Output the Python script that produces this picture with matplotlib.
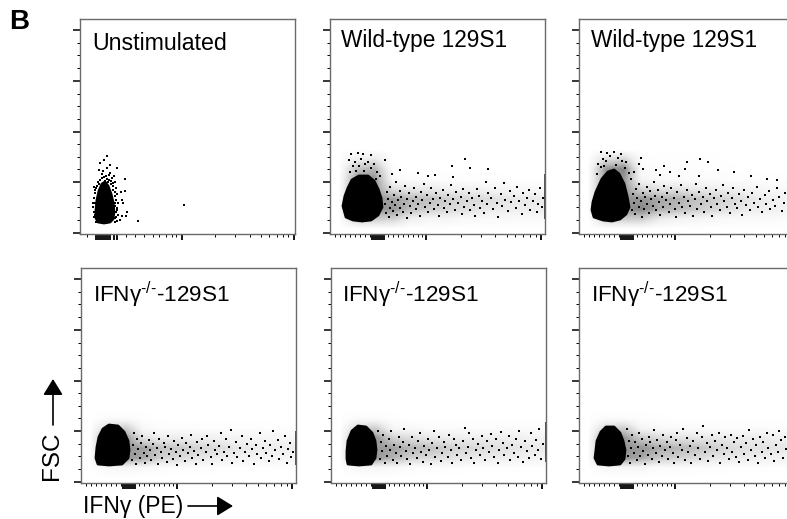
import matplotlib
matplotlib.use('Agg')
import matplotlib.pyplot as plt
import numpy as np

plt.rcParams['font.family'] = ['Liberation Sans', 'DejaVu Sans']
plt.rcParams['mathtext.fontset'] = 'custom'
plt.rcParams['mathtext.rm'] = 'Liberation Sans'
plt.rcParams['mathtext.default'] = 'regular'

W, H = 787, 519
PANEL = 215

labels = ['Unstimulated', 'Wild-type 129S1', 'Wild-type 129S1',
          'IFNγ$^{\\text{-/-}}$-129S1', 'IFNγ$^{\\text{-/-}}$-129S1', 'IFNγ$^{\\text{-/-}}$-129S1']

# channel units, counted from the lower left corner of each plot
y_major = [1, 52, 102, 153, 204]
y_minor = [14, 27, 39, 65, 77, 90, 115, 128, 140, 166, 179, 191]
x_major_1 = [16, 18, 20, 22, 24, 26, 28, 30, 34, 37, 102, 214]
x_minor_1 = [7, 46, 55, 64, 73, 79, 86, 92, 96, 135, 155, 170, 181, 189, 197, 203, 208]
x_major = [42, 44, 46, 48, 50, 52, 54, 96, 211]
x_minor = [5, 10, 15, 20, 25, 30, 35, 40, 58, 63, 68, 73, 78, 83, 88, 92,
           131, 151, 165, 177, 185, 193, 200, 206]

# dense part of each population, outline
blob1 = [(18, 12), (24, 11), (30, 12), (33, 15), (34, 22), (33, 32), (31, 40), (28, 48), (25, 52), (22, 50), (19, 43), (17, 34), (16, 24), (16, 16)]
blob2 = [(16, 17), (23, 14), (32, 13), (41, 14), (48, 19), (52, 27), (51, 36), (48, 45), (44, 53), (38, 58), (29, 58), (22, 54), (18, 46), (15, 38), (13, 28)]
blob3 = [(15, 17), (24, 14), (33, 13), (41, 15), (47, 20), (50, 27), (48, 38), (45, 50), (40, 60), (35, 64), (29, 62), (23, 55), (17, 42), (14, 32), (13, 24)]
blob4 = [(17, 19), (28, 18), (41, 19), (47, 25), (48, 33), (47, 42), (43, 51), (37, 57), (28, 58), (22, 54), (18, 46), (16, 36), (15, 25)]
blob5 = [(17, 19), (28, 18), (40, 19), (44, 25), (45, 33), (44, 42), (41, 50), (35, 56), (27, 57), (21, 52), (17, 42), (16, 32), (16, 24)]
blob6 = [(19, 19), (30, 18), (41, 19), (45, 24), (46, 33), (44, 42), (41, 50), (35, 56), (27, 56), (22, 51), (18, 42), (17, 33), (16, 25)]

# grey level of the loose events, rows 0-90 by 10, columns 0-216 by 18
grid2 = [[0, 0, 0, 0, 0, 0, 0, 0, 0, 0, 0, 0],
         [0, .3, .3, .28, .12, .08, .08, .05, .05, .05, .04, .04],
         [0, .5, .5, .5, .36, .3, .26, .22, .18, .15, .14, .14],
         [0, .5, .5, .46, .4, .36, .3, .26, .24, .2, .16, .16],
         [0, .5, .5, .22, .16, .16, .12, .12, .1, .08, .06, .06],
         [0, .5, .5, .05, .03, .02, .02, .01, .01, .01, 0, 0],
         [0, .35, .4, .02, 0, 0, 0, 0, 0, 0, 0, 0],
         [0, .12, .16, 0, 0, 0, 0, 0, 0, 0, 0, 0],
         [0, 0, 0, 0, 0, 0, 0, 0, 0, 0, 0, 0]]
grid3 = [[0, 0, 0, 0, 0, 0, 0, 0, 0, 0, 0, 0],
         [0, .3, .3, .3, .15, .1, .08, .06, .05, .04, .04, .03],
         [0, .5, .5, .55, .42, .38, .32, .26, .2, .15, .13, .1],
         [0, .5, .5, .5, .44, .42, .36, .3, .25, .18, .14, .1],
         [0, .5, .5, .26, .2, .2, .16, .14, .12, .09, .06, .05],
         [0, .5, .5, .07, .05, .04, .03, .03, .02, .02, .01, .01],
         [0, .5, .55, .04, .02, .02, .02, .01, .01, 0, 0, 0],
         [0, .22, .26, .02, .01, .01, .01, .01, 0, 0, 0, 0],
         [0, 0, 0, 0, 0, 0, 0, 0, 0, 0, 0, 0]]
grid4 = [[0, 0, 0, 0, 0, 0, 0, 0, 0, 0, 0, 0],
         [0, .06, .06, .05, .02, .02, .02, .01, .01, .01, .01, .01],
         [0, .5, .5, .44, .28, .24, .18, .14, .12, .1, .08, .08],
         [0, .5, .5, .46, .34, .32, .28, .24, .18, .16, .14, .14],
         [0, .5, .5, .2, .14, .14, .12, .12, .09, .09, .08, .07],
         [0, .25, .3, .05, .02, .02, .02, .02, .02, .02, .01, .01],
         [0, .03, .03, .01, 0, 0, 0, 0, 0, 0, 0, 0],
         [0, 0, 0, 0, 0, 0, 0, 0, 0, 0, 0, 0],
         [0, 0, 0, 0, 0, 0, 0, 0, 0, 0, 0, 0]]
grid5 = [[0, 0, 0, 0, 0, 0, 0, 0, 0, 0, 0, 0],
         [0, .06, .06, .05, .02, .02, .02, .01, .01, .01, .01, .01],
         [0, .5, .5, .4, .28, .24, .2, .17, .14, .14, .12, .09],
         [0, .5, .5, .46, .4, .36, .3, .26, .24, .2, .18, .16],
         [0, .5, .5, .28, .22, .17, .15, .14, .14, .14, .12, .1],
         [0, .25, .3, .06, .05, .03, .03, .03, .02, .03, .03, .03],
         [0, .03, .03, .01, 0, 0, 0, 0, 0, 0, 0, 0],
         [0, 0, 0, 0, 0, 0, 0, 0, 0, 0, 0, 0],
         [0, 0, 0, 0, 0, 0, 0, 0, 0, 0, 0, 0]]
grid6 = [[0, 0, 0, 0, 0, 0, 0, 0, 0, 0, 0, 0],
         [0, .06, .06, .06, .03, .03, .02, .02, .01, .01, .01, .01],
         [0, .5, .5, .44, .32, .28, .24, .18, .16, .14, .12, .1],
         [0, .5, .5, .5, .44, .4, .36, .3, .24, .2, .2, .17],
         [0, .5, .5, .32, .24, .2, .18, .18, .15, .15, .14, .12],
         [0, .25, .3, .08, .05, .04, .04, .03, .02, .03, .03, .02],
         [0, .03, .03, .01, .01, 0, 0, 0, 0, 0, 0, 0],
         [0, 0, 0, 0, 0, 0, 0, 0, 0, 0, 0, 0],
         [0, 0, 0, 0, 0, 0, 0, 0, 0, 0, 0, 0]]

# single events
dots1 = [(27, 78), (24, 74), (20, 71), (30, 69), (19, 64), (27, 66), (37, 66), (30, 61), (22, 60), (26, 58), (32, 56), (45, 55),
         (20, 54), (25, 53), (35, 52), (14, 47), (41, 42), (45, 43), (42, 34), (43, 31), (37, 26), (47, 22), (42, 18), (46, 18),
         (35, 16), (58, 13), (104, 29), (40, 14), (17, 48), (33, 48), (18, 52), (29, 54), (36, 46), (37, 40), (36, 34), (38, 31),
         (35, 28), (36, 22), (38, 19), (37, 13), (14, 36), (13, 27), (15, 31), (14, 22), (15, 41), (16, 46), (22, 56), (28, 52),
         (31, 50), (23, 63), (34, 58), (33, 44), (35, 38), (35, 12), (14, 17), (16, 12), (21, 48), (24, 57), (27, 55), (29, 59),
         (31, 53), (33, 51), (19, 50), (35, 42), (35, 31), (37, 24), (36, 17), (15, 44), (15, 19), (13, 31)]
dots2 = [(55, 74), (122, 68), (135, 75), (140, 66), (158, 65), (70, 64), (88, 61), (98, 58), (105, 59), (123, 57), (62, 60),
         (21, 80), (28, 81), (33, 80), (41, 79), (25, 72), (38, 72), (44, 70), (23, 68), (31, 75), (35, 70), (19, 74), (29, 68),
         (41, 66), (47, 62), (20, 62), (26, 63), (34, 63), (50, 58), (46, 55),
         (55, 30), (56, 21), (57, 42), (58, 35), (59, 17), (60, 26), (60, 47), (62, 32), (63, 23), (64, 39), (65, 29), (66, 52), (67, 19),
         (68, 34), (70, 26), (70, 43), (71, 37), (73, 22), (74, 30), (75, 48), (77, 16), (77, 35), (79, 41), (80, 28), (81, 21), (83, 33), (84, 46),
         (86, 37), (86, 25), (88, 30), (90, 18), (91, 42), (92, 34), (94, 50), (95, 27), (97, 39), (98, 22), (100, 31), (101, 46), (103, 35),
         (104, 25), (106, 41), (108, 29), (109, 18), (110, 36), (113, 44), (114, 26), (115, 33), (117, 22), (118, 39), (120, 30), (121, 49),
         (123, 35), (125, 24), (126, 42), (128, 31), (131, 37), (132, 20), (133, 45), (134, 27), (137, 33), (139, 41), (140, 24), (142, 36),
         (144, 29), (145, 18), (147, 45), (149, 38), (150, 26), (152, 33), (154, 21), (156, 52), (157, 30), (158, 41), (161, 36), (163, 25),
         (165, 46), (167, 31), (168, 17), (171, 40), (172, 28), (174, 51), (175, 34), (178, 23), (180, 43), (181, 32), (184, 38), (186, 26),
         (187, 47), (189, 33), (192, 20), (193, 41), (195, 29), (197, 36), (199, 44), (200, 24), (203, 33), (205, 40), (207, 22), (208, 30), (210, 46), (212, 27), (213, 36)]
dots3 = [(62, 76), (121, 75), (108, 72), (106, 65), (129, 72), (139, 64), (77, 64), (85, 68), (91, 62), (81, 59), (100, 58), (120, 58), (155, 62),
         (60, 70), (55, 62), (64, 65), (22, 82), (28, 81), (35, 82), (42, 80), (24, 75), (39, 76), (47, 72), (19, 70), (172, 58), (188, 55), (198, 54),
         (31, 78), (27, 73), (43, 73), (37, 69), (22, 67), (46, 66), (50, 61), (52, 55), (18, 60), (25, 68),
         (53, 24), (54, 40), (55, 31), (56, 20), (57, 45), (58, 36), (60, 27), (60, 50), (62, 33), (63, 17), (64, 41), (65, 25), (66, 37), (68, 47),
         (68, 30), (70, 21), (71, 43), (72, 35), (74, 28), (75, 52), (76, 38), (77, 24), (79, 44), (80, 32), (81, 19), (83, 37), (84, 27), (85, 48),
         (87, 34), (88, 41), (90, 22), (91, 30), (92, 46), (95, 36), (96, 25), (97, 17), (98, 42), (100, 31), (102, 49), (103, 27), (105, 37), (106, 21),
         (108, 44), (109, 33), (111, 28), (113, 39), (114, 18), (116, 35), (117, 50), (118, 25), (120, 42), (122, 30), (124, 37), (125, 22), (127, 46),
         (128, 33), (131, 40), (132, 27), (133, 18), (135, 36), (137, 44), (138, 30), (141, 24), (142, 38), (144, 49), (145, 33), (148, 27), (149, 41),
         (151, 21), (153, 36), (154, 46), (156, 30), (158, 26), (160, 40), (162, 33), (163, 19), (165, 44), (167, 29), (169, 37), (171, 24), (173, 41),
         (175, 31), (178, 47), (179, 27), (181, 35), (183, 22), (186, 39), (187, 30), (190, 43), (191, 25), (194, 34), (196, 28), (198, 46), (200, 37),
         (203, 23), (205, 31), (206, 41), (209, 27), (210, 35)]
dots4 = [(51, 23), (52, 38), (53, 50), (54, 29), (55, 19), (56, 44), (57, 34), (59, 25), (60, 40), (61, 47), (63, 30), (64, 20), (65, 36), (66, 27),
         (68, 43), (69, 33), (70, 23), (72, 39), (73, 50), (74, 28), (76, 35), (77, 19), (78, 44), (80, 31), (81, 25), (83, 40), (84, 36), (86, 21),
         (87, 47), (88, 29), (90, 34), (92, 24), (93, 42), (95, 31), (96, 18), (97, 38), (99, 27), (101, 45), (102, 33), (104, 22), (105, 40), (107, 30),
         (109, 36), (110, 48), (111, 25), (113, 32), (115, 19), (116, 41), (117, 28), (120, 35), (121, 44), (122, 23), (125, 31), (126, 47), (127, 38),
         (130, 26), (131, 19), (133, 42), (134, 33), (136, 29), (138, 37), (140, 50), (141, 23), (143, 31), (145, 44), (146, 27), (148, 36), (150, 53),
         (151, 20), (153, 30), (155, 41), (156, 26), (159, 35), (161, 47), (162, 22), (164, 31), (166, 39), (168, 27), (170, 44), (171, 34), (173, 19),
         (175, 38), (176, 29), (179, 50), (180, 25), (182, 35), (184, 42), (185, 30), (188, 22), (189, 38), (191, 27), (192, 52), (194, 33), (197, 43),
         (198, 24), (200, 36), (202, 29), (204, 47), (206, 20), (207, 34), (209, 40), (210, 26), (212, 31)]
dots5 = [(47, 52), (49, 24), (50, 41), (51, 32), (52, 48), (54, 20), (55, 37), (56, 27), (58, 44), (59, 33), (60, 52), (62, 23), (63, 38), (65, 30),
         (66, 20), (68, 46), (69, 36), (70, 27), (72, 41), (73, 54), (75, 32), (76, 24), (78, 38), (79, 19), (81, 46), (82, 30), (84, 35), (86, 25),
         (87, 42), (89, 50), (90, 31), (92, 21), (93, 37), (95, 28), (97, 44), (98, 33), (100, 19), (101, 40), (103, 52), (104, 26), (106, 35), (108, 46),
         (110, 22), (111, 30), (113, 41), (114, 36), (117, 26), (118, 48), (120, 33), (121, 20), (123, 44), (125, 38), (126, 28), (128, 35), (130, 23),
         (132, 42), (134, 55), (135, 30), (137, 36), (138, 50), (140, 25), (142, 44), (143, 20), (145, 33), (147, 39), (149, 28), (151, 47), (152, 35),
         (154, 23), (156, 42), (158, 31), (160, 49), (161, 37), (163, 26), (165, 44), (167, 20), (168, 33), (170, 51), (172, 40), (173, 28), (176, 35),
         (178, 47), (179, 23), (181, 38), (183, 30), (185, 44), (187, 26), (188, 52), (190, 36), (192, 21), (194, 42), (196, 32), (198, 25), (200, 50),
         (201, 37), (204, 28), (205, 43), (207, 33), (208, 54), (210, 24), (212, 39)]
dots6 = [(48, 54), (49, 27), (50, 42), (51, 20), (52, 35), (53, 48), (55, 30), (56, 41), (58, 23), (59, 36), (60, 50), (61, 27), (63, 44), (64, 32),
         (66, 19), (67, 38), (69, 28), (70, 46), (71, 41), (73, 24), (74, 35), (75, 53), (77, 30), (78, 43), (80, 21), (81, 37), (83, 27), (84, 48),
         (86, 33), (88, 41), (89, 24), (91, 36), (92, 46), (94, 30), (95, 20), (97, 43), (98, 50), (99, 26), (101, 38), (103, 33), (104, 54), (106, 23),
         (108, 45), (109, 31), (111, 37), (112, 20), (114, 42), (116, 28), (118, 50), (119, 35), (121, 24), (123, 46), (124, 57), (126, 31), (128, 40),
         (129, 22), (131, 36), (133, 48), (134, 27), (136, 42), (138, 33), (140, 50), (141, 20), (143, 38), (145, 29), (146, 46), (148, 35), (150, 24),
         (152, 48), (153, 31), (155, 41), (157, 26), (158, 45), (160, 21), (162, 36), (164, 47), (165, 29), (167, 40), (169, 23), (170, 53), (172, 33),
         (174, 44), (176, 27), (177, 38), (179, 20), (181, 46), (183, 31), (184, 41), (186, 25), (188, 50), (189, 35), (192, 29), (194, 48), (195, 22),
         (197, 38), (199, 31), (200, 52), (202, 43), (204, 25), (206, 46), (207, 34), (209, 28), (210, 49), (212, 37)]

# events piled up on the right hand axis
edge2 = (15, 60)
edge4 = (18, 52)
edge5 = (21, 61)

fig = plt.figure(figsize=(W / 100, H / 100), dpi=100)


def panel(left, top, blob, grid, dots, edge=None, first=False):
    ax = fig.add_axes([left / W, 1 - (top + PANEL) / H, PANEL / W, PANEL / H])
    if grid is not None:
        ax.imshow(grid, origin='lower', extent=(0, 216, 0, 90), cmap='Greys', vmin=0, vmax=1,
                  interpolation='bilinear', aspect='auto')
    ax.fill(*zip(*blob), facecolor='black', edgecolor='black', lw=2, joinstyle='round')
    ax.scatter(*zip(*dots), s=0.55, marker='s', color='black', linewidths=0)
    if edge is not None:
        ax.vlines(PANEL - 0.5, edge[0], edge[1], color='#333333', lw=1.2)
    ax.set_xlim(0, PANEL)
    ax.set_ylim(0, PANEL)
    for s in ax.spines.values():
        s.set_color('#6a6a6a')
        s.set_linewidth(1)
    ax.set_xticks(x_major_1 if first else x_major)
    ax.set_xticks(x_minor_1 if first else x_minor, minor=True)
    ax.set_yticks(y_major)
    ax.set_yticks(y_minor, minor=True)
    ax.tick_params(which='major', length=4, width=1.3, labelbottom=False, labelleft=False)
    ax.tick_params(axis='y', which='major', length=4.8, width=1.1)
    ax.tick_params(which='minor', length=2, width=0.7)
    return ax


panel(80, 19, blob1, None, dots1, first=True)
panel(330, 19, blob2, grid2, dots2, edge2)
panel(579, 19, blob3, grid3, dots3)
panel(81, 268, blob4, grid4, dots4, edge4)
panel(331, 268, blob5, grid5, dots5, edge5)
panel(579, 268, blob6, grid6, dots6)

# overlay in picture pixels for the lettering and the arrows
ov = fig.add_axes([0, 0, 1, 1], facecolor='none')
ov.set_xlim(0, W)
ov.set_ylim(H, 0)
ov.axis('off')

label_pos = [(92, 44), (341, 41), (591, 41), (93, 295), (342, 295), (591, 295)]
label_size = [16.7, 16.3, 16.3, 16.2, 16.2, 16.2]
for (x, y), t, fs in zip(label_pos, labels, label_size):
    ov.text(x, y, t, fontsize=fs, va='center', ha='left')

ov.text(9, 22, 'B', fontsize=20, fontweight='bold', va='center', ha='left')
ov.text(83, 506, 'IFNγ (PE)', fontsize=16.5, va='center', ha='left')
ov.text(52, 456, 'FSC', fontsize=17.5, rotation=90, va='center', ha='center')
arrow = dict(arrowstyle='-|>,head_length=0.65,head_width=0.4', color='black', lw=1.2, mutation_scale=15,
             shrinkA=0, shrinkB=0)
ov.annotate('', xy=(233, 506), xytext=(188, 506), arrowprops=arrow)
ov.annotate('', xy=(53, 379), xytext=(53, 425), arrowprops=arrow)

fig.savefig('out.png', dpi=100)
